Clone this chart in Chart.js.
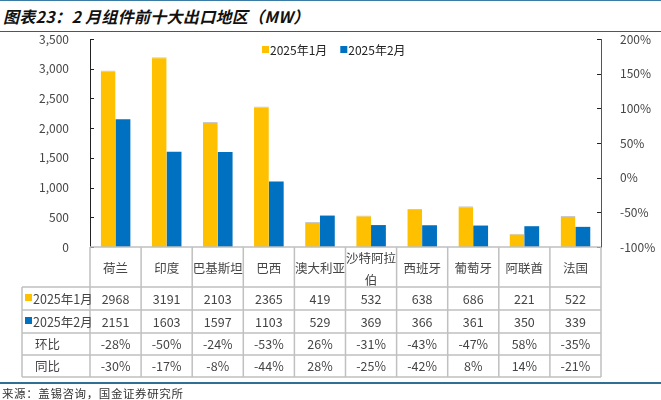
<!DOCTYPE html>
<html>
<head>
<meta charset="utf-8">
<script src="https://cdn.jsdelivr.net/npm/chart.js@4"></script>
<style>
  body { margin: 0; width: 661px; height: 400px; position: relative; overflow: hidden; background: #fff; font-family: "Noto Sans CJK SC", sans-serif; }
  #topline { position: absolute; left: 0; top: 0; width: 661px; height: 1px; background: #3a7ca5; }
  #title { position: absolute; left: 3px; top: 4px; font-size: 16px; font-weight: bold; font-style: italic; color: #111; letter-spacing: 0.3px; }
  #titleline { position: absolute; left: 0; top: 31px; width: 661px; height: 1px; background: #555; }
  #srcline { position: absolute; left: 0; top: 382px; width: 661px; height: 2px; background: #2f6f93; }
  #source { position: absolute; left: 2px; top: 385px; font-size: 11.5px; color: #333; letter-spacing: 0.6px; }
  canvas { position: absolute; left: 0; top: 0; }
</style>
</head>
<body>
<div id="topline"></div>
<div id="title">图表23：2 月组件前十大出口地区（MW）</div>
<div id="titleline"></div>
<canvas id="chart" width="661" height="400"></canvas>
<div id="srcline"></div>
<div id="source">来源：盖锡咨询，国金证券研究所</div>
<script>
const categories = ['荷兰', '印度', '巴基斯坦', '巴西', '澳大利亚', '沙特阿拉伯', '西班牙', '葡萄牙', '阿联酋', '法国'];
const jan2025 = [2968, 3191, 2103, 2365, 419, 532, 638, 686, 221, 522];
const feb2025 = [2151, 1603, 1597, 1103, 529, 369, 366, 361, 350, 339];
const momChange = [-28, -50, -24, -53, 26, -31, -43, -47, 58, -35];
const yoyChange = [-30, -17, -8, -44, 28, -25, -42, 8, 14, -21];
const leftTicks = [0, 500, 1000, 1500, 2000, 2500, 3000, 3500];
const rightTicks = [-100, -50, 0, 50, 100, 150, 200];

const YELLOW = '#FFC000';
const BLUE = '#0070C0';
const TEXT = '#454545';
const FONT = '"Noto Sans CJK SC", sans-serif';

// legend, inward tick marks and the data table under the plot
const extras = {
    id: 'extras',
    afterDraw(chart) {
        const ctx = chart.ctx;
        const x = chart.scales.x;
        const y = chart.scales.y;
        const y1 = chart.scales.y1;
        const area = chart.chartArea;
        ctx.save();

        // tick marks pointing into the plot
        ctx.strokeStyle = '#222';
        ctx.lineWidth = 1;
        leftTicks.forEach(v => {
            const py = Math.round(y.getPixelForValue(v)) + 0.5;
            ctx.beginPath(); ctx.moveTo(area.left, py); ctx.lineTo(area.left + 4, py); ctx.stroke();
        });
        rightTicks.forEach(v => {
            const py = Math.round(y1.getPixelForValue(v)) + 0.5;
            ctx.beginPath(); ctx.moveTo(area.right, py); ctx.lineTo(area.right - 4, py); ctx.stroke();
        });

        // legend
        ctx.font = '12px ' + FONT;
        ctx.textBaseline = 'middle';
        ctx.textAlign = 'left';
        let lx = 262;
        chart.data.datasets.forEach(ds => {
            ctx.fillStyle = ds.backgroundColor;
            ctx.fillRect(lx, 46, 7, 7);
            ctx.fillStyle = '#222';
            ctx.fillText(ds.label, lx + 8, 50);
            lx += ctx.measureText(ds.label).width + 21;
        });

        // table
        const colW = x.width / categories.length;
        const tLeft = 22;
        const top = area.bottom;
        const rows = [287, 310, 333, 355, 377];
        ctx.strokeStyle = '#C0C0C0';
        ctx.lineWidth = 1.5;
        ctx.beginPath();
        ctx.moveTo(area.left, top); ctx.lineTo(area.left + colW * categories.length, top);
        rows.forEach(r => { ctx.moveTo(tLeft, r); ctx.lineTo(area.left + colW * categories.length, r); });
        ctx.moveTo(tLeft, rows[0]); ctx.lineTo(tLeft, rows[4]);
        for (let i = 0; i <= categories.length; i++) {
            const vx = area.left + colW * i;
            ctx.moveTo(vx, top); ctx.lineTo(vx, rows[4]);
        }
        ctx.stroke();

        ctx.font = '12.5px ' + FONT;
        ctx.fillStyle = TEXT;
        ctx.textAlign = 'center';
        categories.forEach((c, i) => {
            const cx = x.getPixelForValue(i);
            if (c.length > 4) {
                ctx.fillText(c.slice(0, 4), cx, 258);
                ctx.fillText(c.slice(4), cx, 280);
            } else {
                ctx.fillText(c, cx, 268);
            }
            ctx.fillText(String(jan2025[i]), cx, 299);
            ctx.fillText(String(feb2025[i]), cx, 322);
            ctx.fillText(momChange[i] + '%', cx, 344.5);
            ctx.fillText(yoyChange[i] + '%', cx, 366.5);
        });

        ctx.textAlign = 'left';
        ctx.fillStyle = YELLOW; ctx.fillRect(25, 294, 7, 7);
        ctx.fillStyle = BLUE; ctx.fillRect(25, 317, 7, 7);
        ctx.fillStyle = TEXT;
        ctx.fillText('2025年1月', 33, 299);
        ctx.fillText('2025年2月', 33, 322);
        ctx.fillText('环比', 35, 344.5);
        ctx.fillText('同比', 35, 366.5);
        ctx.restore();
    }
};

new Chart(document.getElementById('chart').getContext('2d'), {
    type: 'bar',
    data: {
        labels: categories,
        datasets: [
            { label: '2025年1月', data: jan2025, backgroundColor: YELLOW, borderColor: '#C9C9C9', borderWidth: { top: 1, left: 0, right: 0, bottom: 0 } },
            { label: '2025年2月', data: feb2025, backgroundColor: BLUE, borderWidth: 0 }
        ]
    },
    options: {
        responsive: false,
        animation: false,
        layout: { padding: { top: 39, bottom: 153, left: 0, right: 0 } },
        plugins: { legend: { display: false }, tooltip: { enabled: false } },
        datasets: { bar: { categoryPercentage: 0.58, barPercentage: 1 } },
        scales: {
            x: { display: false, offset: true },
            y: {
                position: 'left',
                min: 0, max: 3500,
                afterFit: s => { s.width = 90; },
                afterBuildTicks: s => { s.ticks = leftTicks.map(v => ({ value: v })); },
                grid: { display: false },
                border: { display: true, color: '#222', width: 1 },
                ticks: {
                    padding: 13, color: TEXT, font: { size: 12, family: FONT },
                    callback: v => v.toLocaleString('en-US')
                }
            },
            y1: {
                position: 'right',
                min: -100, max: 200,
                afterFit: s => { s.width = 60; },
                afterBuildTicks: s => { s.ticks = rightTicks.map(v => ({ value: v })); },
                grid: { display: false },
                border: { display: true, color: '#555', width: 1 },
                ticks: {
                    padding: 11, color: TEXT, font: { size: 12, family: FONT },
                    callback: v => v + '%'
                }
            }
        }
    },
    plugins: [extras]
});
</script>
</body>
</html>
